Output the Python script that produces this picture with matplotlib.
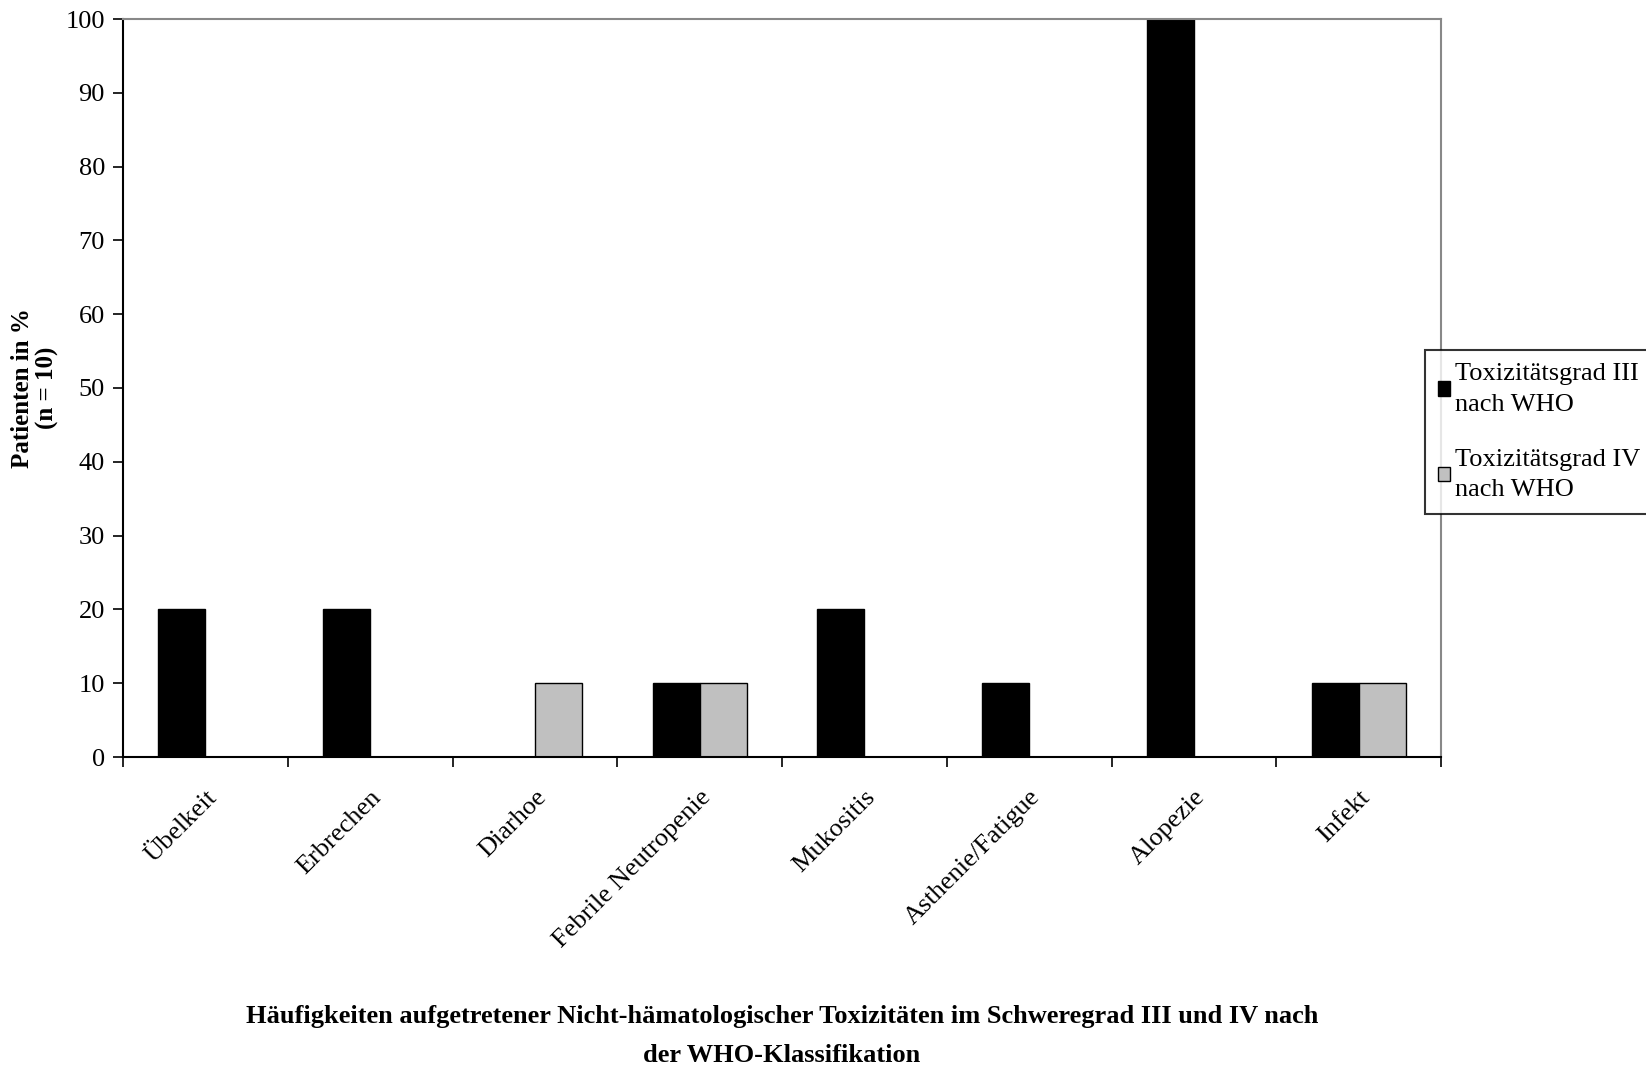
import matplotlib
matplotlib.use("Agg")
import matplotlib.pyplot as plt
import numpy as np

categories = ["Übelkeit", "Erbrechen", "Diarhoe", "Febrile Neutropenie",
              "Mukositis", "Asthenie/Fatigue", "Alopezie", "Infekt"]
grad3 = [20, 20, 0, 10, 20, 10, 100, 10]
grad4 = [0, 0, 10, 10, 0, 0, 0, 10]
series_labels = ["Toxizitätsgrad III\nnach WHO", "Toxizitätsgrad IV\nnach WHO"]
yticks = list(range(0, 101, 10))

plt.rcParams['font.family'] = ['Liberation Serif', 'DejaVu Serif']

fig = plt.figure(figsize=(16.46, 10.74), dpi=100)
ax = fig.add_axes([123/1646, 1 - 757/1074, (1441-123)/1646, (757-19)/1074])

x = np.arange(len(categories))
w = 0.286
ax.bar(x - w/2, grad3, width=w, color="black", edgecolor="black", linewidth=1, label=series_labels[0])
ax.bar(x + w/2, grad4, width=w, color="#C0C0C0", edgecolor="black", linewidth=1, label=series_labels[1])

ax.set_xlim(-0.5, len(categories) - 0.5)
ax.set_ylim(0, 100)
ax.set_yticks(yticks)
ax.set_yticklabels([str(v) for v in yticks], fontsize=19)
ax.set_xticks(np.arange(len(categories) + 1) - 0.5, minor=False)
ax.set_xticklabels([])
ax.set_xticks(x, minor=True)
ax.set_xticklabels(categories, minor=True, rotation=45, ha='right', rotation_mode='anchor', fontsize=19)
ax.tick_params(axis='x', which='minor', length=0, pad=21)
ax.tick_params(axis='x', which='major', direction='out', length=7, width=1.2)
ax.tick_params(axis='y', direction='out', length=7, width=1.2, pad=6)

for s in ['left', 'bottom']:
    ax.spines[s].set_color('black')
    ax.spines[s].set_linewidth(1.5)
for s in ['top', 'right']:
    ax.spines[s].set_color('#888888')
    ax.spines[s].set_linewidth(1.5)

fig.text(35/1646, 1 - 388/1074, "Patienten in %\n(n = 10)", rotation=90, ha='center', va='center',
         fontsize=18, fontweight='bold', linespacing=1.1)

fig.text(782/1646, 1 - 1036/1074,
         "Häufigkeiten aufgetretener Nicht-hämatologischer Toxizitäten im Schweregrad III und IV nach\nder WHO-Klassifikation",
         ha='center', va='center', fontsize=19, fontweight='bold', linespacing=1.9)

leg = fig.legend(loc='upper left', bbox_to_anchor=(1425/1646, 1 - 350/1074), fontsize=19,
                 frameon=True, fancybox=False, edgecolor='black', handlelength=0.45, handleheight=0.45,
                 handletextpad=0.2, labelspacing=1.25, borderpad=0.5, borderaxespad=0)
for t in leg.get_texts():
    t.set_linespacing(1.5)
leg.get_frame().set_linewidth(1.5)

fig.savefig("out.png", dpi=100, facecolor='white')
